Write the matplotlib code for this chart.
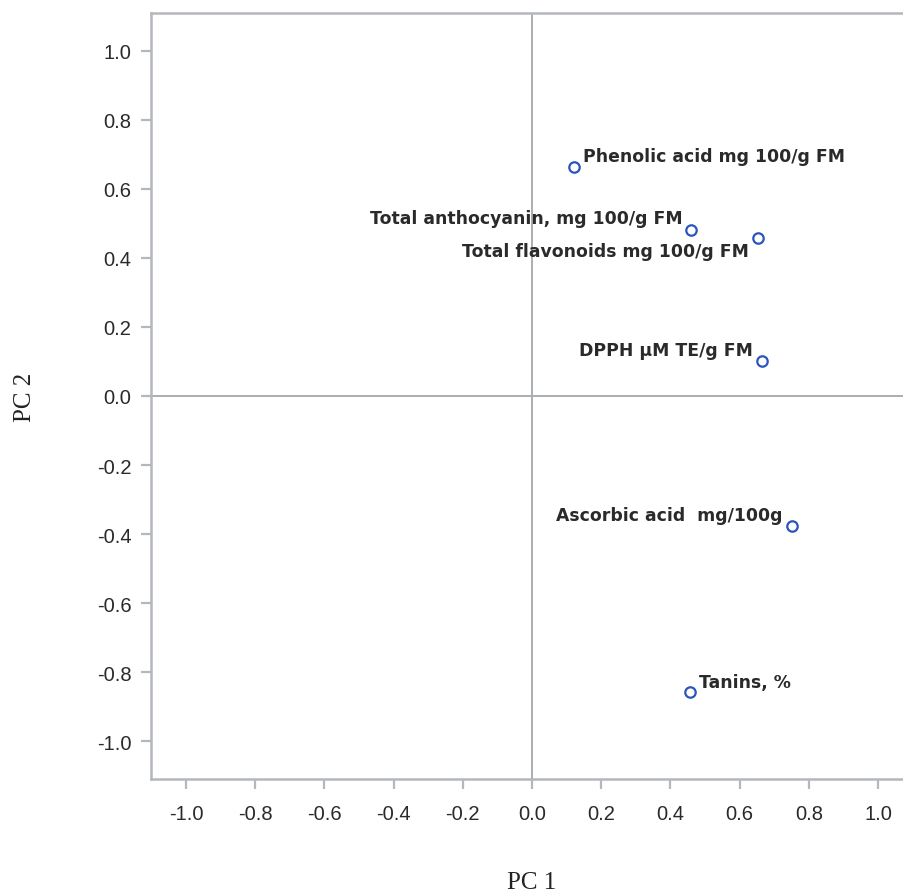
import matplotlib.pyplot as plt

# loadings
variables = ['Phenolic acid mg 100/g FM', 'Total anthocyanin, mg 100/g FM',
             'Total flavonoids mg 100/g FM', 'DPPH \u00b5M TE/g FM',
             'Ascorbic acid  mg/100g', 'Tanins, %']
pc1 = [0.121, 0.460, 0.653, 0.665, 0.751, 0.457]
pc2 = [0.664, 0.481, 0.458, 0.101, -0.377, -0.858]
ticks = [-1.0, -0.8, -0.6, -0.4, -0.2, 0.0, 0.2, 0.4, 0.6, 0.8, 1.0]

# label placement: (dx, dy) in points, horizontal alignment
offsets = [(6.5, 7.5, 'left'), (-6, 8.5, 'right'), (-6.5, -9.5, 'right'),
           (-6.5, 8, 'right'), (-6.5, 8, 'right'), (6.5, 7.5, 'left')]

fig = plt.figure(figsize=(9.04, 8.95), dpi=100)
ax = fig.add_axes([151/904, 1-780/895, 1.0-151/904, (780-14)/895])

grey = '#b4b8bc'
ax.axhline(0, color='#a9aeb3', lw=1.4, zorder=1)
ax.axvline(0, color='#a9aeb3', lw=1.4, zorder=1)

ax.plot(pc1, pc2, 'o', ms=7.5, mfc='none', mec='#2b55bd', mew=1.6, zorder=3)
for x, y, name, (dx, dy, ha) in zip(pc1, pc2, variables, offsets):
    ax.annotate(name, (x, y), xytext=(dx, dy), textcoords='offset points',
                ha=ha, va='center', fontsize=12.4, color='#2a2a2a',
                family='DejaVu Sans', weight='bold')

ax.set_xlim(-1.101, 1.075)
ax.set_ylim(-1.11, 1.11)
ax.set_xticks(ticks)
ax.set_yticks(ticks)
ax.set_xticklabels(['%.1f' % t for t in ticks])
ax.set_yticklabels(['%.1f' % t for t in ticks])

for s in ['left', 'bottom', 'top']:
    ax.spines[s].set_color(grey)
    ax.spines[s].set_linewidth(1.8)
ax.spines['right'].set_visible(False)

ax.tick_params(axis='both', color=grey, width=1.6, length=7, labelsize=14.5,
               labelcolor='#2a2a2a', labelfontfamily='Liberation Sans')
ax.tick_params(axis='x', pad=11)
ax.tick_params(axis='y', pad=7)

fig.text(532/904, 1-883/895, 'PC 1', ha='center', va='center',
         family='Liberation Serif', fontsize=18, color='#222222')
fig.text(25/904, 1-397/895, 'PC 2', ha='center', va='center', rotation=90,
         family='Liberation Serif', fontsize=18, color='#222222')

fig.savefig('out.png', dpi=100)
